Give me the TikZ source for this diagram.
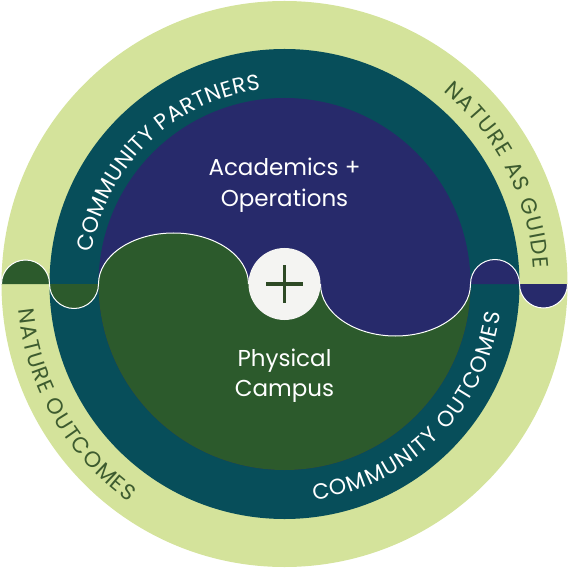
\documentclass[tikz,border=0pt]{standalone}
\usepackage{fontspec}
\setmainfont{Poppins}
\usetikzlibrary{decorations.text}
\definecolor{lightg}{HTML}{D4E39B}
\definecolor{tealc}{HTML}{074E5A}
\definecolor{purp}{HTML}{272A6B}
\definecolor{dgreen}{HTML}{2C5A2C}
\definecolor{hubc}{HTML}{F4F4F2}
\definecolor{plusc}{HTML}{2E4A26}
\definecolor{ringtxt}{HTML}{3D5B2F}
\newcommand{\ringsize}{\fontsize{22}{22}\selectfont}
\tikzset{
  centertext/.style={text=white, font=\fontsize{23}{30}\selectfont, anchor=base, inner sep=0pt},
  wave/.style={draw=white, line width=1pt},
  ringtext/.style n args={3}{decorate, decoration={text effects along path, text={#1}, text align=center,
    text effects/.cd, text along path,
    character widths={font=\ringsize, inner xsep=#3},
    characters={font=\ringsize, inner xsep=#3, text=#2}}},
}
\begin{document}
\begin{tikzpicture}[x=1pt,y=1pt]
\useasboundingbox (-284.5,-283) rectangle (284.5,284);
% rings
\fill[lightg] (0,0) circle (283);
\fill[tealc] (0,0) circle (235);
\fill[purp] (0,0) circle (186);
% green lower half with wave
\fill[dgreen] (-186,0) arc[start angle=180,end angle=0,x radius=75,y radius=51]
  -- (36,0) arc[start angle=180,end angle=360,x radius=75,y radius=52]
  arc[start angle=0,end angle=-180,radius=186] -- cycle;
% semicircles
\fill[dgreen] (-235,0) arc[start angle=180,end angle=360,radius=24.5] -- cycle;
\fill[purp] (186,0) arc[start angle=180,end angle=0,radius=24.5] -- cycle;
\fill[dgreen] (-283,0) arc[start angle=180,end angle=0,radius=24] -- cycle;
\fill[purp] (235,0) arc[start angle=180,end angle=360,radius=24] -- cycle;
% white wave outline
\path[wave] (-283,0) arc[start angle=180,end angle=0,radius=24]
  arc[start angle=180,end angle=360,radius=24.5]
  arc[start angle=180,end angle=0,x radius=75,y radius=51]
  (36,0) arc[start angle=180,end angle=360,x radius=75,y radius=52]
  arc[start angle=180,end angle=0,radius=24.5]
  arc[start angle=180,end angle=360,radius=24];
% hub
\node[circle, fill=hubc, minimum size=72pt, inner sep=0pt] (hub) at (0,0) {};
\draw[plusc, line width=3.5pt] ([xshift=-18.5pt]hub.center) -- ([xshift=18.5pt]hub.center);
\draw[plusc, line width=3.5pt] ([yshift=-18.5pt]hub.center) -- ([yshift=18.5pt]hub.center);
% center texts
\node[centertext] (acad1) at (0,108) {Academics +};
\node[centertext] (acad2) at (0,77.3) {Operations};
\node[centertext] (phys1) at (0,-82) {Physical};
\node[centertext] (phys2) at (0,-112.7) {Campus};
% ring texts
\path[ringtext={COMMUNITY PARTNERS}{white}{0.2pt}]
  (213.8:195.5) arc[start angle=213.8, end angle=53.8, radius=195.5];
\path[ringtext={COMMUNITY OUTCOMES}{white}{0.7pt}]
  (235:218) arc[start angle=235, end angle=395, radius=218];
\path[ringtext={NATURE AS GUIDE}{ringtxt}{0.7pt}]
  (107:249.5) arc[start angle=107, end angle=-53, radius=249.5];
\path[ringtext={NATURE OUTCOMES}{ringtxt}{0.7pt}]
  (130:267.5) arc[start angle=130, end angle=290, radius=267.5];
\end{tikzpicture}
\end{document}
